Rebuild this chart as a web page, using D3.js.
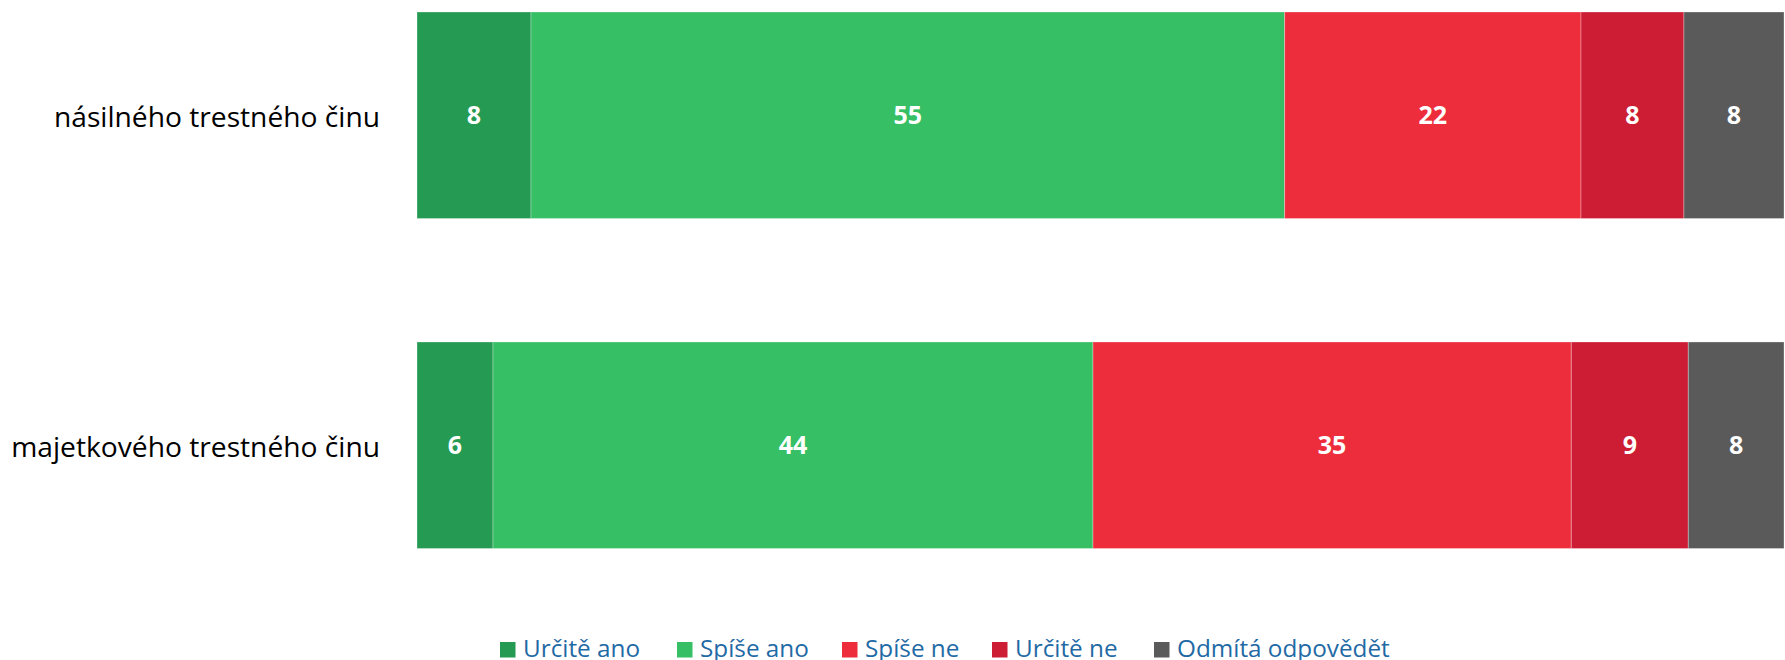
<!DOCTYPE html>
<html>
<head>
<meta charset="utf-8">
<script src="https://cdn.jsdelivr.net/npm/d3@7"></script>
<style>
  html, body { margin: 0; padding: 0; background: #ffffff; }
  svg { display: block; }
</style>
</head>
<body>
<div id="chart"></div>
<script>
// ---- data ----
const categories = ["násilného trestného činu", "majetkového trestného činu"];
const seriesNames = ["Určitě ano", "Spíše ano", "Spíše ne", "Určitě ne", "Odmítá odpovědět"];
const seriesColors = ["#259A52", "#36BF65", "#ED2D3C", "#CC1D34", "#5A5A5A"];
// estimated shares (percent) per category, in series order
const valuesNasilny = [8.34, 55.13, 21.68, 7.53, 7.32];
const valuesMajetkovy = [5.56, 43.89, 34.99, 8.56, 7.0];
// labels shown on the bars
const labelsNasilny = ["8", "55", "22", "8", "8"];
const labelsMajetkovy = ["6", "44", "35", "9", "8"];

const allValues = [valuesNasilny, valuesMajetkovy];
const allLabels = [labelsNasilny, labelsMajetkovy];

// ---- layout ----
const W = 1785, H = 660;
const svg = d3.select("#chart").append("svg").attr("width", W).attr("height", H);
const font = "'Open Sans', 'DejaVu Sans', sans-serif";

const x = d3.scaleLinear().domain([0, 100]).range([417, 1784]);
const yBar = d3.scaleBand().domain(categories).range([12, 548.5]).paddingInner(0.3742).paddingOuter(0);

const rows = categories.map((c, i) => {
  let acc = 0;
  return seriesNames.map((s, j) => {
    const v = allValues[i][j];
    const seg = { cat: c, series: s, x0: acc, x1: acc + v, color: seriesColors[j], label: allLabels[i][j] };
    acc += v;
    return seg;
  });
}).flat();

const g = svg.append("g");
g.selectAll("rect.seg").data(rows).join("rect")
  .attr("class", "seg")
  .attr("x", d => x(d.x0))
  .attr("width", d => x(d.x1) - x(d.x0))
  .attr("y", d => yBar(d.cat))
  .attr("height", yBar.bandwidth())
  .attr("fill", d => d.color)
  .attr("stroke", "rgba(255,255,255,0.3)")
  .attr("stroke-width", 1);

g.selectAll("text.val").data(rows).join("text")
  .attr("class", "val")
  .attr("x", d => (x(d.x0) + x(d.x1)) / 2)
  .attr("y", d => yBar(d.cat) + yBar.bandwidth() / 2)
  .attr("dy", "0.36em")
  .attr("text-anchor", "middle")
  .attr("fill", "#ffffff")
  .attr("font-family", font)
  .attr("font-weight", "bold")
  .attr("font-size", 25)
  .text(d => d.label);

// category axis
const yAxis = d3.axisLeft(yBar).tickSize(0).tickPadding(37);
const ax = svg.append("g").attr("transform", "translate(417,0)").call(yAxis);
ax.select(".domain").remove();
ax.selectAll("text")
  .attr("font-family", font)
  .attr("font-size", 28.2)
  .attr("dy", "0.35em")
  .attr("y", 2)
  .attr("fill", "#000000");

// legend
const legendX = [500, 677, 842, 992, 1154];
const legend = svg.append("g");
const li = legend.selectAll("g").data(seriesNames).join("g")
  .attr("transform", (d, i) => `translate(${legendX[i]},642)`);
li.append("rect").attr("width", 15.5).attr("height", 15.5).attr("fill", (d, i) => seriesColors[i]);
li.append("text")
  .attr("x", 23).attr("y", 15)
  .attr("font-family", font).attr("font-size", 24.3)
  .attr("fill", "#1F6AA5")
  .text(d => d);
</script>
</body>
</html>
